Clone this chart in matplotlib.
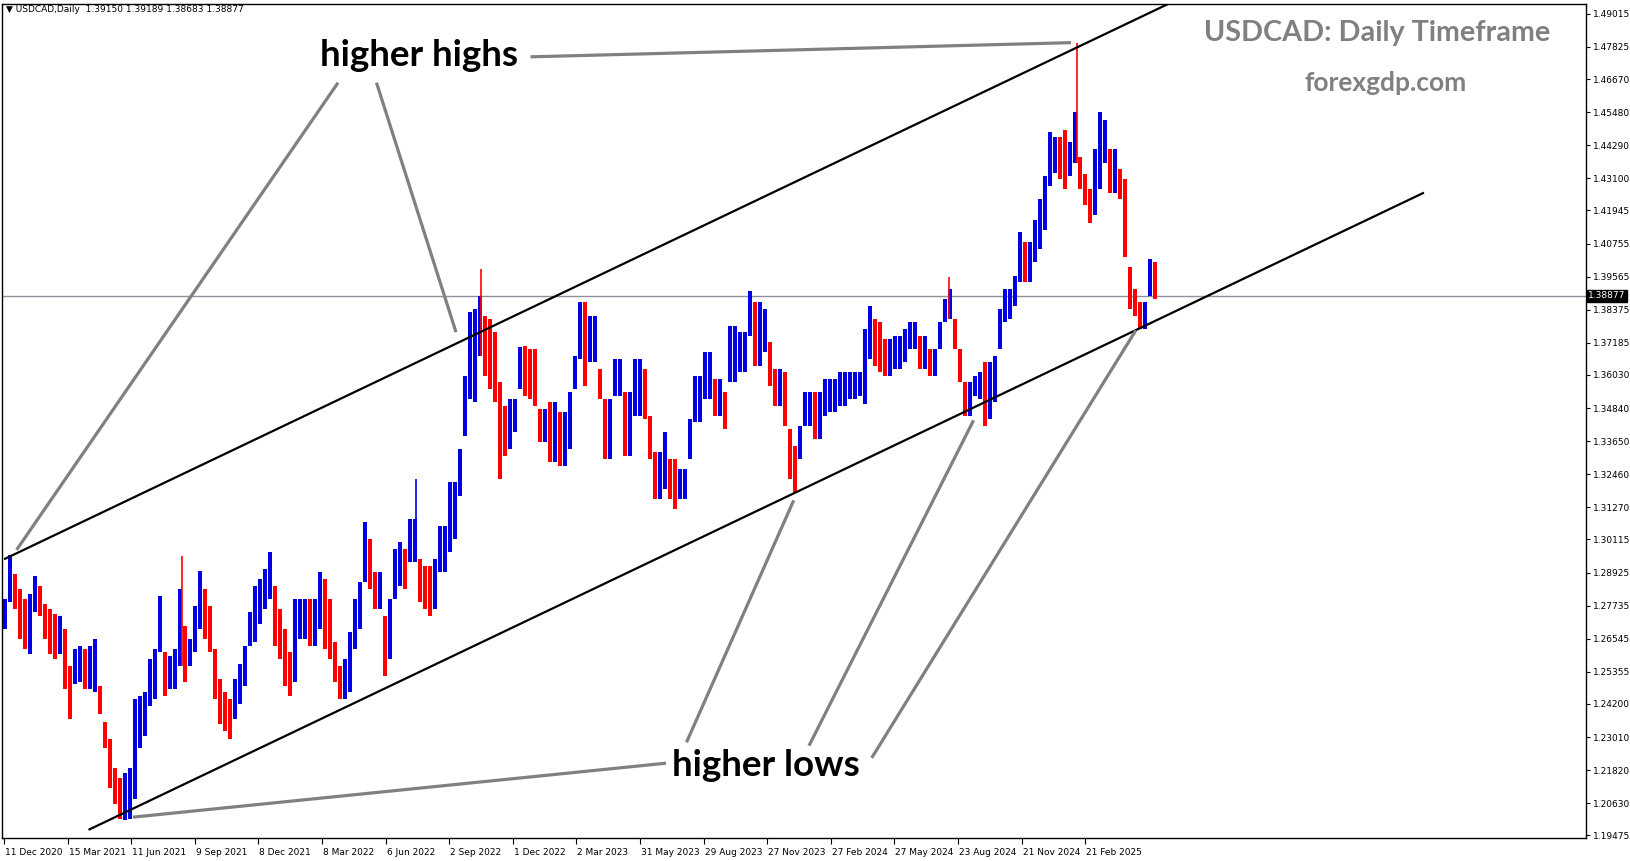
import numpy as np
import matplotlib
matplotlib.use("Agg")
from matplotlib import pyplot as plt
from matplotlib import transforms

# weekly high / low of USDCAD daily chart, one value every 5 bars
highs = [1.2798, 1.2956, 1.2888, 1.2834, 1.2798, 1.2816, 1.2881, 1.2845, 1.2780, 1.2762,
         1.2744, 1.2737, 1.2690, 1.2557, 1.2619, 1.2629, 1.2619, 1.2629, 1.2654, 1.2486,
         1.2356, 1.2295, 1.2188, 1.2152, 1.2170, 1.2188, 1.2439, 1.2450, 1.2464, 1.2583,
         1.2619, 1.2809, 1.2608, 1.2593, 1.2619, 1.2834, 1.2701, 1.2654, 1.2773, 1.2899,
         1.2834, 1.2773, 1.2619, 1.2511, 1.2464, 1.2439, 1.2511, 1.2565, 1.2629, 1.2751,
         1.2845, 1.2870, 1.2906, 1.2967, 1.2845, 1.2762, 1.2690, 1.2608, 1.2798, 1.2798,
         1.2798, 1.2798, 1.2798, 1.2895, 1.2870, 1.2798, 1.2644, 1.2557, 1.2583, 1.2680,
         1.2798, 1.2859, 1.3074, 1.3013, 1.2895, 1.2895, 1.2737, 1.2798, 1.2978, 1.3003,
         1.2978, 1.3085, 1.3085, 1.2942, 1.2917, 1.2917, 1.2942, 1.3060, 1.3060, 1.3218,
         1.3218, 1.3337, 1.3599, 1.3828, 1.3839, 1.3886, 1.3814, 1.3803, 1.3757, 1.3577,
         1.3491, 1.3516, 1.3516, 1.3703, 1.3706, 1.3696, 1.3696, 1.3480, 1.3480, 1.3505,
         1.3505, 1.3469, 1.3469, 1.3541, 1.3670, 1.3864, 1.3864, 1.3814, 1.3814, 1.3624,
         1.3516, 1.3516, 1.3660, 1.3660, 1.3541, 1.3541, 1.3660, 1.3660, 1.3624, 1.3455,
         1.3326, 1.3326, 1.3398, 1.3301, 1.3301, 1.3265, 1.3265, 1.3444, 1.3599, 1.3599,
         1.3685, 1.3685, 1.3588, 1.3588, 1.3541, 1.3778, 1.3778, 1.3757, 1.3757, 1.3904,
         1.3864, 1.3864, 1.3839, 1.3721, 1.3624, 1.3624, 1.3613, 1.3408, 1.3347, 1.3419,
         1.3541, 1.3541, 1.3541, 1.3541, 1.3588, 1.3588, 1.3588, 1.3613, 1.3613, 1.3613,
         1.3613, 1.3613, 1.3767, 1.3850, 1.3803, 1.3792, 1.3731, 1.3731, 1.3742, 1.3742,
         1.3767, 1.3792, 1.3792, 1.3742, 1.3742, 1.3696, 1.3696, 1.3792, 1.3875, 1.3911,
         1.3803, 1.3696, 1.3577, 1.3577, 1.3599, 1.3613, 1.3649, 1.3649, 1.3670, 1.3839,
         1.3911, 1.3911, 1.3958, 1.4116, 1.4080, 1.4080, 1.4162, 1.4234, 1.4317, 1.4475,
         1.4460, 1.4460, 1.4485, 1.4439, 1.4550, 1.4388, 1.4324, 1.4270, 1.4414, 1.4550,
         1.4521, 1.4414, 1.4414, 1.4342, 1.4306, 1.3993, 1.3911, 1.3864, 1.3864, 1.4019,
         1.4008]
lows = [1.2690, 1.2787, 1.2762, 1.2654, 1.2619, 1.2601, 1.2751, 1.2737, 1.2654, 1.2601,
        1.2583, 1.2601, 1.2475, 1.2367, 1.2493, 1.2500, 1.2475, 1.2475, 1.2464, 1.2385,
        1.2260, 1.2116, 1.2062, 1.2008, 1.2001, 1.2008, 1.2080, 1.2260, 1.2306, 1.2414,
        1.2439, 1.2608, 1.2450, 1.2475, 1.2475, 1.2557, 1.2500, 1.2557, 1.2608, 1.2690,
        1.2654, 1.2608, 1.2439, 1.2349, 1.2321, 1.2295, 1.2367, 1.2421, 1.2486, 1.2629,
        1.2644, 1.2708, 1.2762, 1.2798, 1.2629, 1.2583, 1.2486, 1.2450, 1.2500, 1.2654,
        1.2654, 1.2629, 1.2629, 1.2690, 1.2619, 1.2583, 1.2500, 1.2439, 1.2439, 1.2464,
        1.2619, 1.2690, 1.2859, 1.2834, 1.2762, 1.2762, 1.2522, 1.2583, 1.2798, 1.2845,
        1.2834, 1.2931, 1.2931, 1.2787, 1.2762, 1.2737, 1.2762, 1.2895, 1.2895, 1.2967,
        1.3013, 1.3168, 1.3383, 1.3516, 1.3505, 1.3670, 1.3599, 1.3552, 1.3505, 1.3229,
        1.3311, 1.3337, 1.3398, 1.3552, 1.3527, 1.3516, 1.3491, 1.3362, 1.3362, 1.3290,
        1.3290, 1.3275, 1.3275, 1.3337, 1.3552, 1.3660, 1.3563, 1.3649, 1.3649, 1.3516,
        1.3301, 1.3301, 1.3527, 1.3527, 1.3311, 1.3311, 1.3455, 1.3455, 1.3444, 1.3301,
        1.3157, 1.3157, 1.3193, 1.3157, 1.3121, 1.3157, 1.3157, 1.3301, 1.3433, 1.3433,
        1.3516, 1.3516, 1.3455, 1.3455, 1.3408, 1.3577, 1.3577, 1.3613, 1.3613, 1.3742,
        1.3634, 1.3634, 1.3685, 1.3563, 1.3491, 1.3491, 1.3419, 1.3229, 1.3182, 1.3301,
        1.3419, 1.3419, 1.3372, 1.3372, 1.3455, 1.3469, 1.3469, 1.3491, 1.3491, 1.3516,
        1.3516, 1.3527, 1.3498, 1.3660, 1.3634, 1.3613, 1.3599, 1.3599, 1.3624, 1.3624,
        1.3649, 1.3696, 1.3696, 1.3624, 1.3624, 1.3599, 1.3599, 1.3696, 1.3792, 1.3803,
        1.3696, 1.3577, 1.3455, 1.3455, 1.3527, 1.3516, 1.3419, 1.3444, 1.3505, 1.3696,
        1.3792, 1.3803, 1.3850, 1.3936, 1.3936, 1.3936, 1.4008, 1.4055, 1.4126, 1.4281,
        1.4331, 1.4306, 1.4270, 1.4317, 1.4367, 1.4270, 1.4216, 1.4151, 1.4180, 1.4270,
        1.4367, 1.4259, 1.4259, 1.4234, 1.4029, 1.3839, 1.3814, 1.3767, 1.3767, 1.3886,
        1.3875]

# single-day wicks that stick out of the band (bar index, high)
spike_bars = [180, 414, 479, 947, 1075]
spike_highs = [1.2952, 1.3229, 1.3983, 1.3954, 1.4798]
spike_up = [False, True, False, False, False]

last_price = 1.38877
header = "USDCAD,Daily  1.39150 1.39189 1.38683 1.38877"

price_ticks = [1.19475, 1.20630, 1.21820, 1.23010, 1.24200, 1.25355, 1.26545, 1.27735,
               1.28925, 1.30115, 1.31270, 1.32460, 1.33650, 1.34840, 1.36030, 1.37185,
               1.38375, 1.39565, 1.40755, 1.41945, 1.43100, 1.44290, 1.45480, 1.46670,
               1.47825, 1.49015]
date_labels = ['11 Dec 2020', '15 Mar 2021', '11 Jun 2021', '9 Sep 2021', '8 Dec 2021',
               '8 Mar 2022', '6 Jun 2022', '2 Sep 2022', '1 Dec 2022', '2 Mar 2023',
               '31 May 2023', '29 Aug 2023', '27 Nov 2023', '27 Feb 2024', '27 May 2024',
               '23 Aug 2024', '21 Nov 2024', '21 Feb 2025']

# channel lines: (bar, price) anchors
upper_line = [(3, 1.2942), (1113, 1.4846)]
lower_line = [(87.5, 1.1969), (1421, 1.4257)]

UP = '#0000e0'
DOWN = '#ff0000'
GREY = '#808080'

W, H = 1631, 861
fig = plt.figure(figsize=(W / 100, H / 100), dpi=100)
ax = fig.add_axes([2 / W, (H - 838) / H, 1584 / W, 834 / H])
ax.set_xlim(0, 1584)
ax.set_ylim(1.1938, 1.4937)

highs = np.array(highs)
lows = np.array(lows)
xs = np.arange(len(highs)) * 5 + 3
mids = (highs + lows) / 2
rising = np.r_[True, mids[1:] >= mids[:-1]]
colors = [UP if r else DOWN for r in rising]

ax.axhline(last_price, color='#8c929c', lw=1, zorder=1)
ax.bar(xs, highs - lows, bottom=lows, width=3.2, color=colors, linewidth=0, zorder=2)

for b, hi, up in zip(spike_bars, spike_highs, spike_up):
    i = int(np.argmin(np.abs(xs - b)))
    ax.vlines(b, lows[i], hi, color=UP if up else DOWN, lw=1.2, zorder=2)

# channel
(ux0, uy0), (ux1, uy1) = upper_line
slope = (uy1 - uy0) / (ux1 - ux0)
ax.plot([ux0, 1300], [uy0, uy0 + slope * (1300 - ux0)], color='black', lw=1.6, zorder=3)
ax.plot(*zip(*lower_line), color='black', lw=1.6, zorder=3)

# pointer lines
pointers = [
    [(336, 1.4654), (14.6, 1.2974)],
    [(374.5, 1.4654), (454, 1.3757)],
    [(528.5, 1.4747), (1069, 1.4798)],
    [(664, 1.2207), (131, 1.2013)],
    [(684.5, 1.2282), (791.7, 1.3152)],
    [(807, 1.2270), (971.6, 1.3440)],
    [(869.7, 1.2226), (1133.9, 1.3764)],
]
for p in pointers:
    ax.plot(*zip(*p), color=GREY, lw=2.3, solid_capstyle='butt', zorder=4)

# axes styling like the terminal
for s in ax.spines.values():
    s.set_color('black')
    s.set_linewidth(1)
ax.yaxis.tick_right()
ax.set_yticks(price_ticks)
ax.set_yticklabels(['%.5f' % v for v in price_ticks])
ax.tick_params(axis='y', direction='out', length=3, pad=2, labelsize=6.5, colors='black')
ax.set_xticks([2 + 63.6 * k for k in range(len(date_labels))])
ax.set_xticklabels(date_labels, ha='left')
ax.tick_params(axis='x', direction='out', length=4, pad=3, labelsize=6.5)
for lab in ax.get_xticklabels():
    lab.set_transform(lab.get_transform() + transforms.ScaledTranslation(1 / 100, 0, fig.dpi_scale_trans))

# last price box
trans = transforms.blended_transform_factory(ax.transAxes, ax.transData)
ax.text(1.0015, last_price, '1.38877', transform=trans, fontsize=6.5, color='white',
        va='center', ha='left',
        bbox=dict(boxstyle='square,pad=0.15', fc='black', ec='black'), zorder=6)

fig.text(6 / W, 1 - 10 / H, '\u25BC ' + header, fontsize=6.5, va='center', ha='left')

fig.text(419 / W, 1 - 56 / H, 'higher highs', fontsize=26.5, fontfamily='Lato',
         fontweight='bold', ha='center', va='center')
fig.text(766 / W, 1 - 766 / H, 'higher lows', fontsize=26.5, fontfamily='Lato',
         fontweight='bold', ha='center', va='center')
fig.text(1377 / W, 1 - 33 / H, 'USDCAD: Daily Timeframe', fontsize=20.7, fontfamily='Lato',
         fontweight='bold', color=GREY, ha='center', va='center')
fig.text(1386 / W, 1 - 83 / H, 'forexgdp.com', fontsize=19, fontfamily='Lato',
         fontweight='bold', color=GREY, ha='center', va='center')

fig.savefig('out.png', dpi=100)
